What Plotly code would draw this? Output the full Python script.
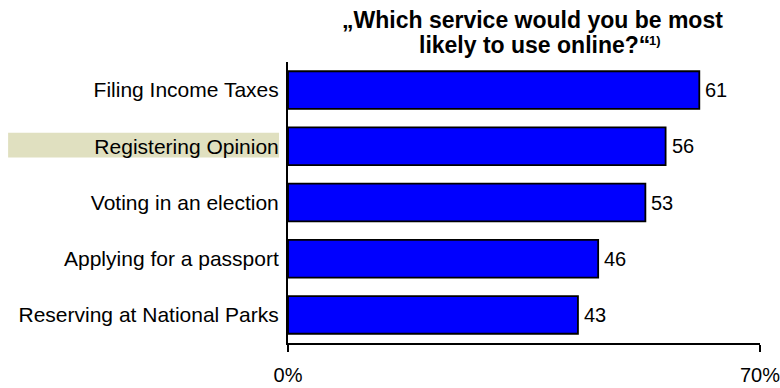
import plotly.graph_objects as go

# Survey: preferred online government services (share of respondents, %)
services = [
    "Filing Income Taxes",
    "Registering Opinion",
    "Voting in an election",
    "Applying for a passport",
    "Reserving at National Parks",
]
shares = [61, 56, 53, 46, 43]
axis_ticks = [0, 70]
axis_tick_labels = ["0%", "70%"]
highlighted = "Registering Opinion"
title_line1 = "„Which service would you be most"
title_line2 = "likely to use online?“"
title_footnote = "1)"

FONT = "Liberation Sans, Arial, sans-serif"

fig = go.Figure(
    go.Bar(
        x=shares,
        y=services,
        orientation="h",
        marker=dict(color="#0000FF", line=dict(color="#000000", width=1.8)),
        width=0.67,
        hoverinfo="skip",
    )
)

# value labels to the right of each bar
for name, val in zip(services, shares):
    fig.add_annotation(
        x=val, y=name, xref="x", yref="y",
        text=str(val), showarrow=False,
        xanchor="left", yanchor="middle", xshift=4,
        font=dict(family=FONT, size=20, color="#000000"),
    )

# shaded band behind the highlighted category label
hi = services.index(highlighted)
fig.add_shape(
    type="rect", xref="paper", yref="y",
    x0=-0.593, x1=-0.019, y0=hi - 0.24, y1=hi + 0.2,
    fillcolor="#E0E0C0", line=dict(width=0), layer="below",
)

# two-line bold title; the footnote marker sits small and raised after line two
title_font = dict(family=FONT, size=23, color="#000000")
fig.add_annotation(
    xref="paper", yref="paper", x=0.517, y=1.0, yshift=42,
    xanchor="center", yanchor="middle",
    text=f"<b>{title_line1}</b>", showarrow=False, font=title_font,
)
fig.add_annotation(
    xref="paper", yref="paper", x=0.765, y=1.0, yshift=17, xshift=2,
    xanchor="right", yanchor="middle", borderpad=0,
    text=f"<b>{title_line2}</b>", showarrow=False, font=title_font,
)
fig.add_annotation(
    xref="paper", yref="paper", x=0.765, y=1.0, yshift=22, xshift=-1,
    xanchor="left", yanchor="middle", borderpad=0,
    text=f"<b>{title_footnote}</b>", showarrow=False,
    font=dict(family=FONT, size=13, color="#000000"),
)

fig.update_layout(
    width=780, height=388,
    margin=dict(l=288, r=20, t=62, b=45),
    paper_bgcolor="#FFFFFF", plot_bgcolor="#FFFFFF",
    showlegend=False,
    font=dict(family=FONT, size=20, color="#000000"),
    xaxis=dict(
        range=[0, 70], tickvals=axis_ticks, ticktext=axis_tick_labels,
        showgrid=False, zeroline=False, automargin=False,
        showline=True, linecolor="#000000", linewidth=2,
        ticks="outside", ticklen=7, tickwidth=2, tickcolor="#000000",
        ticklabelstandoff=6, ticklabeloverflow="allow",
        tickfont=dict(family=FONT, size=20, color="#000000"),
    ),
    yaxis=dict(
        type="category", categoryorder="array", categoryarray=services,
        range=[4.5, -0.5], automargin=False,
        showgrid=False, zeroline=False,
        showline=True, linecolor="#000000", linewidth=2,
        ticks="", ticklabelstandoff=3,
        tickfont=dict(family=FONT, size=21, color="#000000"),
    ),
)

fig.write_html("out.html")
